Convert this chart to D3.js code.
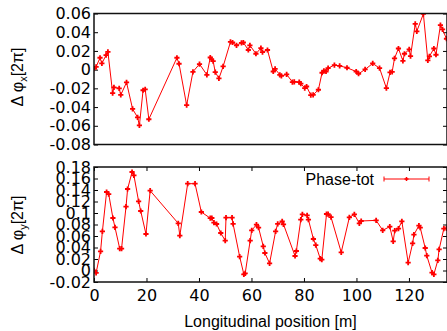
<!DOCTYPE html>
<html>
<head>
<meta charset="utf-8">
<script src="https://cdn.jsdelivr.net/npm/d3@7"></script>
<style>
  body { margin: 0; background: #fff; }
  svg { display: block; }
  .tick text { font-family: "DejaVu Sans", sans-serif; font-size: 16px; fill: #000; }
  .lbl { font-family: "Liberation Sans", Arial, sans-serif; font-size: 16px; fill: #000; }
</style>
</head>
<body>
<svg id="chart" width="447" height="331"></svg>
<script>
// longitudinal position [m] and phase difference, horizontal plane
const posX = [0, 0.8, 2.3, 3.0, 4.6, 5.3, 7.1, 7.6, 9.6, 10.2, 12.4, 14.7, 16.6, 17.3, 18.7, 19.5, 20.9,
  31.6, 32.4, 35.3, 37.7, 40.2, 43.0, 44.3,
  44.8, 45.4, 46.2, 47.6, 49.2, 52.0, 52.8, 54.3, 56.2, 56.9, 58.8, 59.4, 61.7, 63.6, 64.2, 66.1,
  68.3, 69.0, 70.8, 71.4, 73.4, 75.6, 76.3, 78.2, 78.8, 80.3, 81.0, 82.6, 83.5, 85.5, 86.9, 87.6, 88.4, 89.2,
  91.6, 93.6, 96.4, 99.9, 100.8, 103.3, 106.2, 108.8, 111.4, 112.8, 113.6, 114.5, 116.0, 117.7, 118.3,
  120.1, 120.6, 122.4, 123.0, 125.5, 127.2, 127.8, 129.5, 130.3, 132.0, 132.8, 134.3];
const dphiX = [0.001, 0.003, 0.0127, 0.0066, 0.0155, 0.019, -0.025, -0.019, -0.020, -0.027, -0.0137, -0.042, -0.051, -0.0596, -0.022, -0.021, -0.053,
  0.0127, 0.0063, -0.038, -0.0023, 0.006, -0.0055, 0.013,
  0.011, 0.009, -0.0026, -0.0094, 0.0034, 0.0297, 0.029, 0.026, 0.0287, 0.029, 0.021, 0.026, 0.017, 0.023, 0.0187, 0.021,
  -0.002, 0.0009, -0.0055, -0.0066, -0.0051, -0.0133, -0.013, -0.0133, -0.015, -0.0197, -0.018, -0.0272, -0.027, -0.0215, -0.0033, -0.0012, -0.002, 0.0016,
  0.0048, 0.004, 0.002, -0.002, -0.0044, 0.0002, 0.0066, 0.0016, -0.0197, -0.003, -0.0023, 0.012, 0.0226, 0.0094, 0.017,
  0.0216, 0.0144, 0.049, 0.041, 0.0596, 0.0098, 0.0141, 0.0226, 0.0159, 0.0476, 0.043, 0.033];

// vertical plane
const posY = [0, 0.8, 2.5, 3.2, 4.8, 5.6, 7.2, 8.0, 9.8, 10.5, 12.2, 12.8, 14.5, 15.2, 17.0, 17.8, 19.8, 21.4,
  32.1, 32.7, 35.7, 38.5, 40.9, 44.3,
  44.9, 45.7, 46.7, 48.3, 50.0, 50.3, 52.6, 53.0, 55.5, 57.1, 57.6, 59.5, 60.1, 61.9, 62.7, 64.5, 65.1, 66.9,
  69.2, 70.0, 71.7, 72.2, 76.6, 77.1, 78.8, 79.4, 81.2, 81.7, 83.6, 84.5, 86.2, 86.8, 88.6, 89.2,
  90.3, 94.2, 97.3, 99.2, 101.1, 101.8, 107.5, 110.0, 112.7, 114.0, 114.6, 116.0, 117.3,
  119.7, 121.4, 121.9, 123.8, 124.3, 126.2, 126.8, 128.8, 129.5, 131.0, 131.5, 133.3, 134.3];
const dphiY = [0.0003, -0.0043, 0.0333, 0.0681, 0.1365, 0.133, 0.0913, 0.075, 0.038, 0.038, 0.111, 0.1417, 0.1713, 0.1655, 0.1203, 0.1035, 0.0635, 0.1388,
  0.082, 0.0606, 0.151, 0.151, 0.1017, 0.091,
  0.0913, 0.0832, 0.0809, 0.0652, 0.0519, 0.092, 0.092, 0.081, 0.0241, -0.0067, -0.005, 0.0519, 0.0699, 0.0797, 0.0745, 0.042, 0.0304, 0.0125,
  0.0681, 0.081, 0.0855, 0.0803, 0.0252, 0.0339, 0.0884, 0.0977, 0.0959, 0.0884, 0.0548, 0.0443, 0.0206, 0.0188, 0.0983, 0.098,
  0.093, 0.0316, 0.0925, 0.0977, 0.082, 0.0861, 0.0872, 0.0699, 0.0762, 0.0507, 0.0693, 0.0728, 0.0855,
  0.0136, 0.0472, 0.0623, 0.078, 0.0745, 0.0391, 0.0258, -0.0038, -0.0067, 0.0177, 0.0368, 0.0728, 0.0733];

const xTicks = [0, 20, 40, 60, 80, 100, 120];
const yTicksTop = [-0.08, -0.06, -0.04, -0.02, 0, 0.02, 0.04, 0.06];
const yTickLabelsTop = ["-0.08", "-0.06", "-0.04", "-0.02", "0", "0.02", "0.04", "0.06"];
const yTicksBot = [-0.02, 0, 0.02, 0.04, 0.06, 0.08, 0.1, 0.12, 0.14, 0.16, 0.18];
const yTickLabelsBot = ["-0.02", "0", "0.02", "0.04", "0.06", "0.08", "0.1", "0.12", "0.14", "0.16", "0.18"];
const seriesName = "Phase-tot";

const svg = d3.select("#chart");
const left = 94, right = 447;
const red = "#ff0000";

const x = d3.scaleLinear().domain([0, 134.5]).range([left, right]);

function panel(top, bottom, yDomain, ticks, tickLabels, pos, vals, withX, id) {
  const y = d3.scaleLinear().domain(yDomain).range([bottom, top]);
  const lbl = d => tickLabels[ticks.indexOf(d)];

  const ga = svg.append("g").attr("transform", `translate(${left},0)`)
    .call(d3.axisLeft(y).tickValues(ticks).tickSizeInner(-4).tickSizeOuter(0).tickPadding(3).tickFormat(lbl));
  ga.append("g"); // keep structure
  svg.append("g").attr("transform", `translate(${right},0)`)
    .call(d3.axisRight(y).tickValues(ticks).tickSizeInner(-4).tickSizeOuter(0).tickFormat(""));

  if (withX) {
    svg.append("g").attr("transform", `translate(0,${bottom})`)
      .call(d3.axisBottom(x).tickValues(xTicks).tickSizeInner(-4).tickSizeOuter(0).tickPadding(8));
    svg.append("g").attr("transform", `translate(0,${top})`)
      .call(d3.axisTop(x).tickValues(xTicks).tickSizeInner(-4).tickSizeOuter(0).tickFormat(""));
  }
  svg.selectAll(".domain").remove();
  svg.selectAll(".tick line").attr("stroke", "#000");

  svg.append("clipPath").attr("id", id).append("rect")
    .attr("x", left).attr("y", top).attr("width", right - left).attr("height", bottom - top);

  const pts = d3.zip(pos, vals);
  const g = svg.append("g").attr("clip-path", `url(#${id})`);
  g.append("path")
    .datum(pts)
    .attr("fill", "none")
    .attr("stroke", red)
    .attr("stroke-width", 1)
    .attr("d", d3.line().x(d => x(d[0])).y(d => y(d[1])));
  g.selectAll(".pt").data(pts).enter().append("path")
    .attr("class", "pt")
    .attr("transform", d => `translate(${x(d[0])},${y(d[1])})`)
    .attr("d", "M-2.6,0H2.6M0,-2.6V2.6")
    .attr("stroke", red)
    .attr("stroke-width", 1.8);

  svg.append("rect")
    .attr("x", left).attr("y", top).attr("width", right - left).attr("height", bottom - top)
    .attr("fill", "none").attr("stroke", "#111").attr("stroke-width", 1.5);
  return y;
}

panel(13.5, 144.5, [-0.08, 0.06], yTicksTop, yTickLabelsTop, posX, dphiX, false, "clipTop");
panel(167, 282, [-0.02, 0.18], yTicksBot, yTickLabelsBot, posY, dphiY, true, "clipBot");

// axis labels
function ylabel(cy, sub) {
  const t = svg.append("text").attr("class", "lbl")
    .attr("transform", `translate(23,${cy}) rotate(-90)`)
    .attr("text-anchor", "middle");
  t.append("tspan").text("\u0394 \u03c6");
  t.append("tspan").attr("font-size", "11px").attr("dy", 4).text(sub);
  t.append("tspan").attr("dy", -4).text("[2\u03c0]");
}
ylabel(77, "x");
ylabel(225, "y");

svg.append("text").attr("class", "lbl")
  .attr("x", (left + right) / 2).attr("y", 327)
  .attr("text-anchor", "middle")
  .text("Longitudinal position [m]");

// legend
const ly = 179;
svg.append("text").attr("class", "lbl")
  .attr("x", 374).attr("y", ly + 6)
  .attr("text-anchor", "end")
  .text(seriesName);
const lg = svg.append("g").attr("stroke", red);
lg.append("line").attr("x1", 384).attr("x2", 429).attr("y1", ly).attr("y2", ly).attr("stroke-width", 1);
lg.append("line").attr("x1", 384).attr("x2", 384).attr("y1", ly - 2.5).attr("y2", ly + 2.5).attr("stroke-width", 1);
lg.append("line").attr("x1", 429).attr("x2", 429).attr("y1", ly - 2.5).attr("y2", ly + 2.5).attr("stroke-width", 1);
lg.append("path").attr("transform", `translate(406.5,${ly})`).attr("d", "M-2,0H2M0,-2V2").attr("stroke-width", 1.5);
</script>
</body>
</html>
